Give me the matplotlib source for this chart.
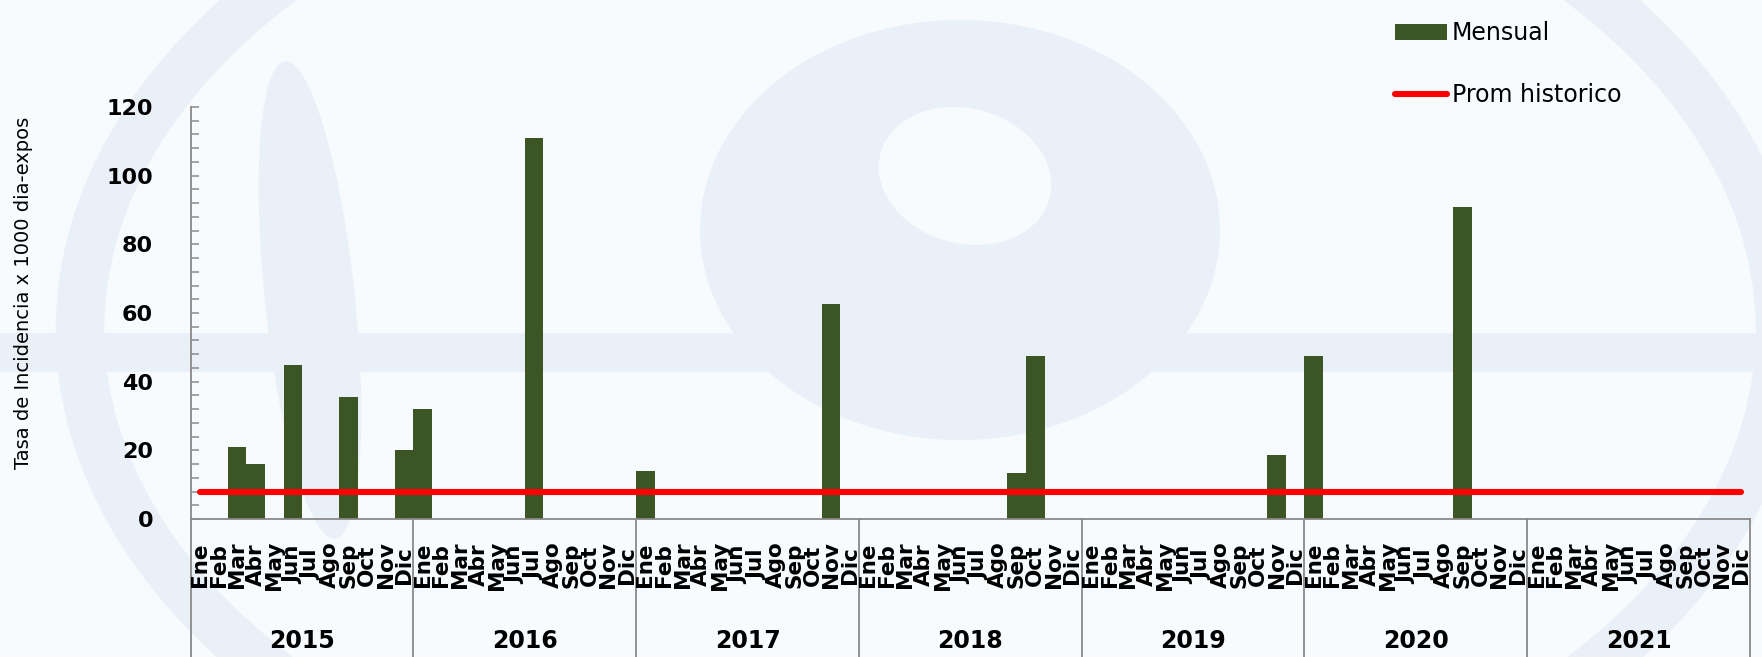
import numpy as np
import matplotlib
matplotlib.use('Agg')
import matplotlib.pyplot as plt
from matplotlib.patches import Ellipse, Rectangle
from matplotlib.ticker import MultipleLocator

# Data
years = ['2015', '2016', '2017', '2018', '2019', '2020', '2021']
months = ['Ene', 'Feb', 'Mar', 'Abr', 'May', 'Jun',
          'Jul', 'Ago', 'Sep', 'Oct', 'Nov', 'Dic']
v2015 = [0, 0, 21, 16, 0, 45, 0, 0, 35.5, 0, 0, 20]
v2016 = [32, 0, 0, 0, 0, 0, 111, 0, 0, 0, 0, 0]
v2017 = [14, 0, 0, 0, 0, 0, 0, 0, 0, 0, 62.5, 0]
v2018 = [0, 0, 0, 0, 0, 0, 0, 0, 13.3, 47.5, 0, 0]
v2019 = [0, 0, 0, 0, 0, 0, 0, 0, 0, 0, 18.6, 0]
v2020 = [47.5, 0, 0, 0, 0, 0, 0, 0, 91, 0, 0, 0]
v2021 = [0, 0, 0, 0, 0, 0, 0, 0, 0, 0, 0, 0]
prom_historico = 7.8

mensual = v2015 + v2016 + v2017 + v2018 + v2019 + v2020 + v2021
n = len(mensual)
x = np.arange(n)

W, H = 1762, 657
fig = plt.figure(figsize=(W / 100, H / 100), dpi=100)
bgc = '#f8fbfd'
fig.patch.set_facecolor(bgc)

# faint watermark in the background
bg = fig.add_axes([0, 0, 1, 1], zorder=-5)
bg.set_xlim(0, W)
bg.set_ylim(H, 0)
bg.axis('off')
wm = '#eaf0f8'
bg.add_patch(Rectangle((0, 333), W, 39, color=wm, lw=0))
bg.add_patch(Ellipse((930, 330), 1700, 1080, fill=False, ec=wm, lw=35))
bg.add_patch(Ellipse((960, 230), 520, 420, color=wm, lw=0))
bg.add_patch(Ellipse((965, 176), 175, 135, angle=15, color=bgc, lw=0))
bg.add_patch(Ellipse((310, 300), 90, 480, angle=-6, color=wm, lw=0))

ax = fig.add_axes([190.7 / W, (H - 519) / H, (1750 - 190.7) / W, 412 / H])
ax.set_facecolor('none')

bars = ax.bar(x, mensual, width=1.0, align='edge', color='#3b5524', zorder=2)
line, = ax.plot([0.5, n - 0.5], [prom_historico, prom_historico], color='#ff0000',
                lw=4.4, solid_capstyle='round', zorder=3)

ax.set_xlim(0, n)
ax.set_ylim(0, 120)

for s in ['top', 'right']:
    ax.spines[s].set_visible(False)
for s in ['left', 'bottom']:
    ax.spines[s].set_color('#8a8a8a')
    ax.spines[s].set_linewidth(1.3)

ax.yaxis.set_major_locator(MultipleLocator(20))
ax.yaxis.set_minor_locator(MultipleLocator(4))
ax.tick_params(axis='y', which='both', direction='in', length=5.5, width=1.1,
               color='#8a8a8a', pad=27)
ax.tick_params(axis='y', which='major', labelsize=16)
for t in ax.get_yticklabels():
    t.set_fontweight('bold')

ax.set_xticks([])
trans = ax.get_xaxis_transform()
# month labels
for i in range(n):
    ax.text(i + 0.5, -46 / 412, months[i % 12], transform=trans, rotation=90,
            ha='center', va='center', fontsize=15.5, fontweight='bold')
# year dividers and labels
for k in range(len(years) + 1):
    ax.plot([k * 12, k * 12], [0, -138 / 412], transform=trans, color='#8a8a8a',
            lw=1.3, clip_on=False)
for k, yr in enumerate(years):
    ax.text(k * 12 + 6, -122 / 412, yr, transform=trans, ha='center', va='center',
            fontsize=17, fontweight='bold')

fig.text(24 / W, 1 - 293 / H, 'Tasa de Incidencia x 1000 dia-expos', rotation=90,
         ha='center', va='center', fontsize=14)

fig.legend([bars, line], ['Mensual', 'Prom historico'], loc='upper left',
           bbox_to_anchor=(1374 / W, 1 - 0 / H), frameon=False,
           fontsize=17, handlelength=2.2, handleheight=0.7, labelspacing=1.6,
           handletextpad=0.2)

fig.savefig('out.png', dpi=100, facecolor=fig.get_facecolor())
